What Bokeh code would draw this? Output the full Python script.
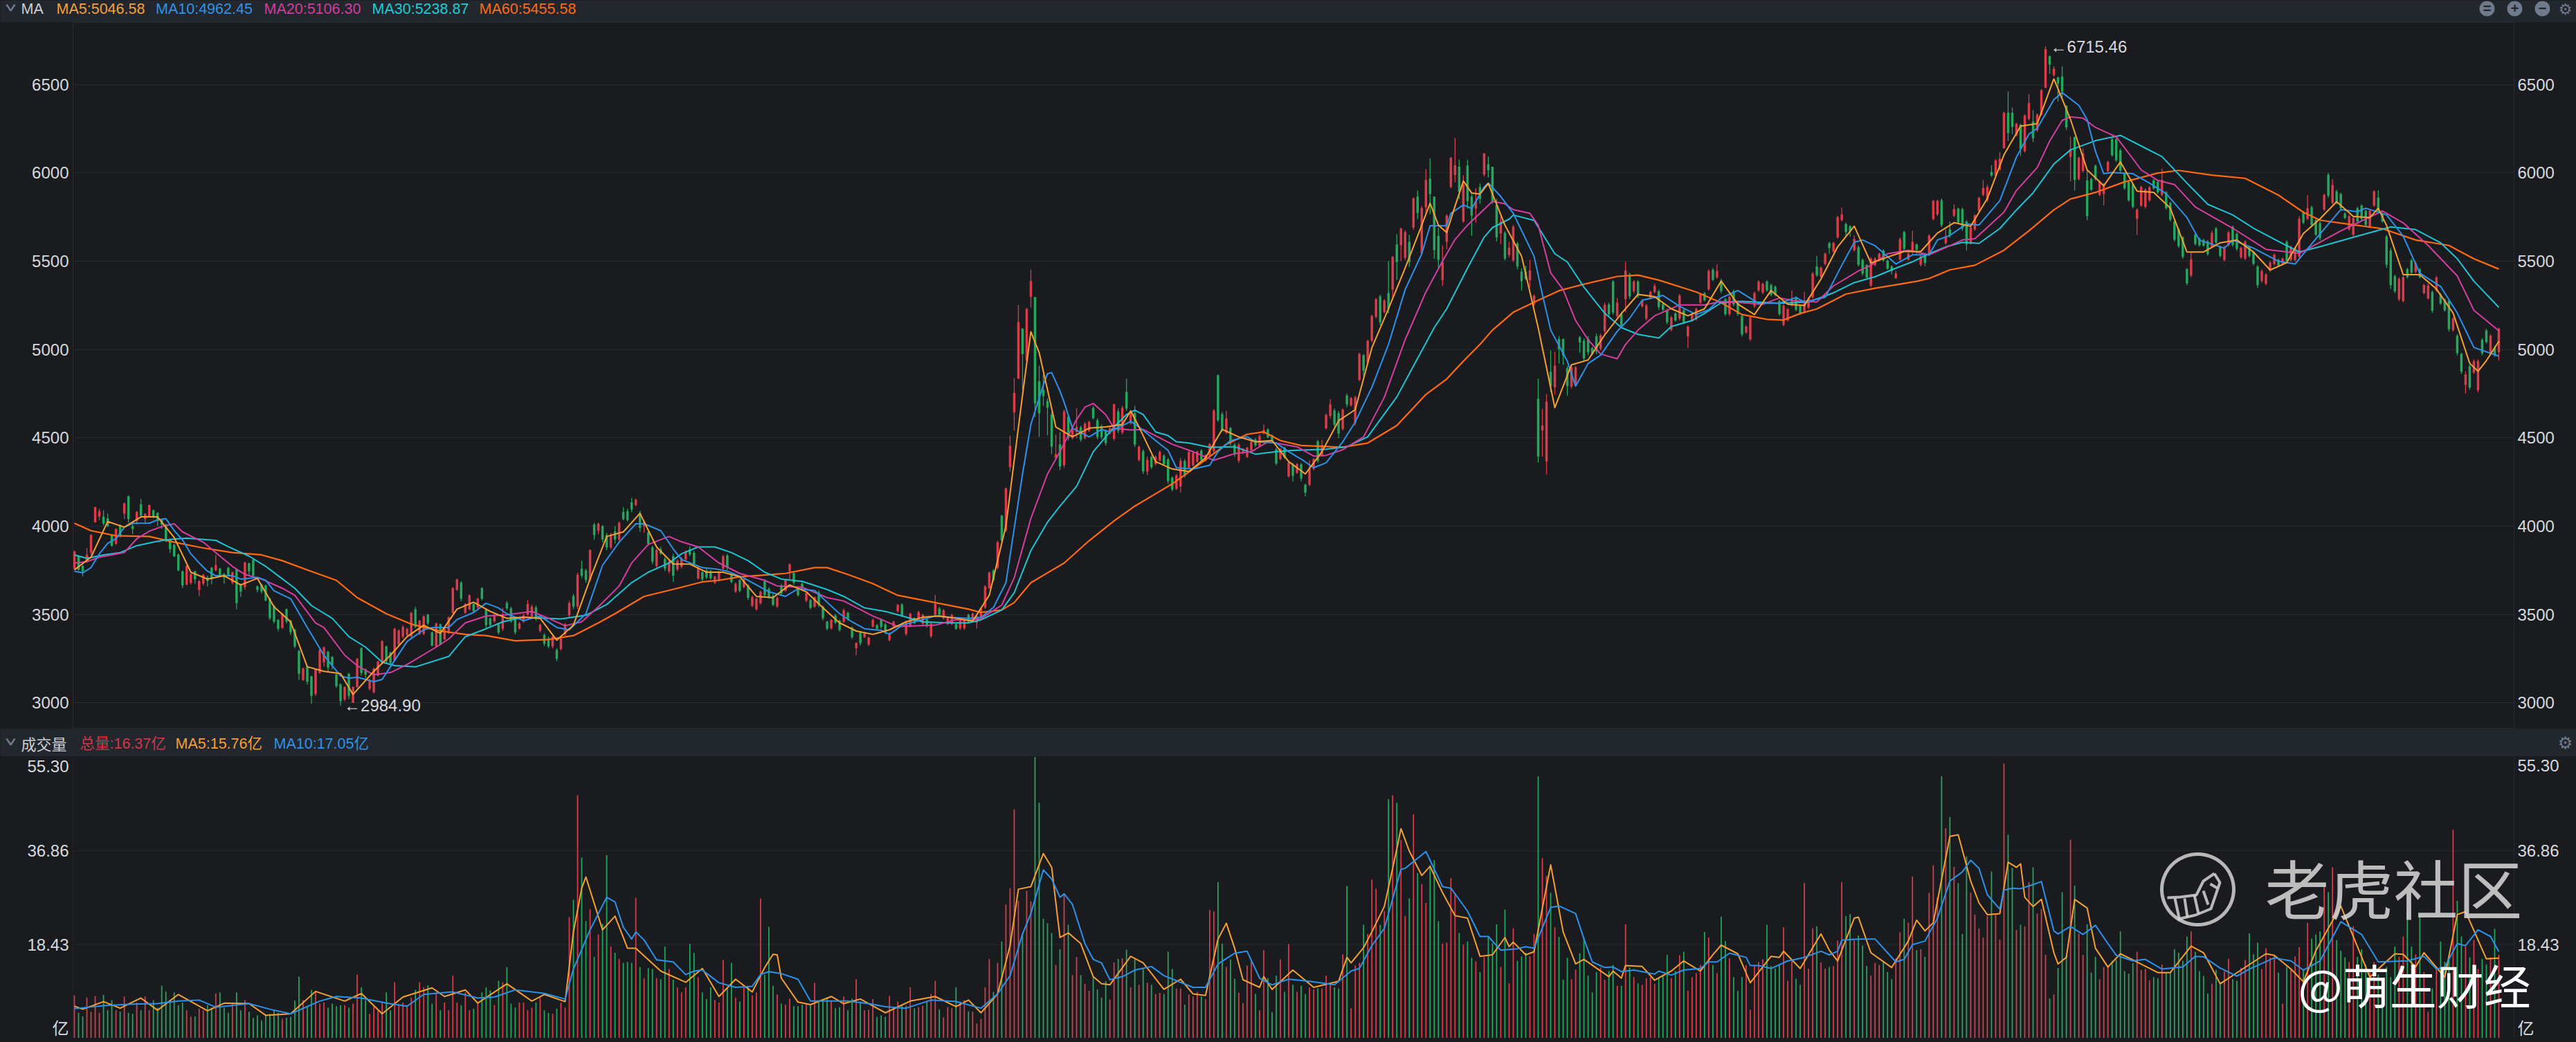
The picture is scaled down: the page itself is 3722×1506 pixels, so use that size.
import numpy as np
from bokeh.core.properties import value
from bokeh.embed import file_html
from bokeh.layouts import column
from bokeh.models import ColumnDataSource, FixedTicker, GlobalInlineStyleSheet, Label, LinearAxis, Range1d
from bokeh.plotting import figure
from bokeh.resources import INLINE

opens = [
3760,3830,3775,3805,3850,4022,4055,4055,4045,3950,3900,4005,4072,4170,4000,4030,4125,4040,4055,4090,
4075,4040,4010,3925,3895,3840,3745,3670,3680,3745,3640,3675,3710,3765,3750,3760,3730,3765,3680,3755,
3670,3655,3790,3810,3660,3670,3665,3590,3550,3470,3425,3530,3465,3415,3295,3130,3205,3150,3050,3170,
3230,3290,3260,3160,3105,3020,3165,3000,3090,3310,3190,3080,3060,3155,3225,3320,3285,3240,3330,3375,
3385,3375,3530,3390,3390,3500,3400,3320,3445,3360,3395,3510,3640,3680,3510,3530,3560,3540,3650,3530,
3478,3462,3445,3420,3565,3535,3470,3420,3460,3500,3490,3540,3408,3385,3365,3320,3300,3305,3390,3495,
3605,3545,3760,3750,3695,4010,3975,4000,3950,3880,3970,3925,4080,4085,4135,4120,4075,4000,3965,3880,
3775,3870,3815,3745,3830,3755,3770,3812,3870,3850,3705,3740,3750,3745,3680,3695,3760,3835,3725,3630,
3695,3655,3665,3550,3530,3565,3690,3645,3605,3545,3665,3635,3745,3735,3640,3675,3578,3582,3545,3625,
3545,3460,3422,3495,3465,3460,3510,3425,3310,3398,3372,3330,3432,3440,3470,3445,3355,3432,3518,3558,
3390,3435,3480,3465,3448,3472,3378,3500,3535,3480,3448,3448,3446,3422,3422,3498,3462,3455,3485,3540,
3650,3750,3765,4060,3975,4335,4645,4835,5119,4940,5298,5297,4820,4772,4709,4632,4387,4464,4345,4620,
4500,4534,4560,4500,4540,4670,4600,4565,4540,4525,4495,4650,4530,4760,4585,4640,4375,4425,4310,4392,
4352,4372,4400,4378,4275,4212,4225,4370,4332,4345,4365,4428,4372,4400,4425,4855,4635,4530,4555,4462,
4370,4412,4392,4428,4492,4455,4525,4548,4515,4435,4380,4445,4282,4350,4302,4350,4235,4235,4325,4480,
4400,4555,4625,4655,4640,4550,4740,4685,4585,4828,4968,4928,5050,5185,5300,5212,5320,5340,5595,5590,
5520,5610,5690,5866,5545,5805,5967,5866,5643,5393,5610,5920,5988,6035,5725,6040,5866,5798,5920,5990,
6048,6035,5819,5657,5660,5535,5505,5600,5441,5441,5393,5255,4721,4543,4367,4874,4786,5059,5059,4894,
4790,4805,5070,5050,5060,5008,5075,5005,5103,5255,5385,5190,5200,5285,5425,5330,5385,5245,5175,5292,
5325,5330,5258,5222,5112,5205,5175,5222,5075,5165,5172,5265,5318,5340,5452,5408,5390,5285,5200,5330,
5270,5190,5096,5058,5245,5335,5322,5385,5365,5355,5275,5140,5165,5250,5292,5250,5212,5238,5295,5470,
5412,5484,5603,5555,5635,5732,5710,5698,5562,5580,5508,5478,5362,5478,5505,5560,5503,5470,5405,5510,
5665,5510,5555,5595,5480,5530,5535,5738,5765,5845,5602,5680,5758,5798,5795,5725,5600,5680,5785,5875,
5845,6005,5985,6018,6140,6340,6340,6212,6272,6122,6305,6290,6240,6330,6482,6660,6552,6540,6545,6380,
6090,6204,5965,6010,5957,5965,6040,5875,5880,6010,6190,6190,6128,5995,5948,5935,5740,5815,5808,5845,
5958,5950,5875,5890,5830,5725,5680,5635,5455,5420,5650,5628,5620,5612,5582,5685,5582,5507,5590,5695,
5655,5522,5515,5582,5552,5470,5388,5372,5448,5484,5508,5484,5610,5507,5507,5525,5778,5740,5805,5732,
5716,5792,5990,5830,5895,5880,5770,5680,5650,5800,5815,5785,5695,5815,5860,5770,5640,5560,5415,5285,
5275,5455,5505,5440,5455,5320,5290,5325,5335,5312,5282,5275,5110,5078,4975,4800,4905,4870,4770,5055,5108,4975,5010,4985]
closes = [
3858,3753,3745,3840,3950,4108,4085,4015,4000,3890,3985,3945,4130,4040,3985,4082,4060,4070,4120,4055,
4030,4010,3915,3870,3830,3750,3665,3775,3730,3700,3690,3725,3690,3700,3780,3720,3710,3725,3740,3565,
3630,3795,3745,3720,3640,3630,3580,3480,3460,3420,3505,3460,3400,3320,3165,3195,3120,3040,3190,3300,
3315,3200,3215,3095,3010,3090,3040,3090,3250,3170,3160,3130,3195,3235,3350,3235,3225,3420,3410,3430,
3420,3510,3430,3465,3490,3450,3325,3450,3330,3420,3485,3650,3700,3590,3560,3610,3520,3590,3590,3440,
3440,3498,3398,3500,3535,3465,3400,3450,3495,3560,3545,3475,3442,3335,3320,3375,3250,3365,3445,3565,
3545,3725,3720,3695,3865,3950,4015,3925,3880,3950,3925,4020,4040,4035,4095,4150,3990,4025,3900,3800,
3865,3845,3760,3800,3720,3805,3820,3855,3840,3785,3765,3700,3710,3705,3715,3740,3830,3765,3685,3675,
3635,3700,3595,3600,3590,3630,3610,3600,3555,3595,3620,3695,3785,3680,3610,3650,3622,3538,3598,3555,
3480,3420,3470,3455,3412,3525,3475,3372,3340,3338,3395,3370,3470,3420,3430,3398,3395,3460,3555,3495,
3458,3505,3452,3515,3498,3435,3450,3560,3500,3525,3485,3498,3420,3472,3472,3460,3505,3490,3535,3660,
3738,3695,3910,3920,4215,4455,4755,5155,4975,5230,5388,4695,4640,4737,4671,4450,4408,4338,4650,4500,
4548,4562,4490,4580,4590,4612,4505,4505,4470,4555,4690,4540,4670,4665,4645,4462,4450,4310,4375,4335,
4392,4420,4352,4255,4208,4288,4370,4285,4420,4415,4422,4375,4402,4465,4655,4600,4545,4610,4470,4405,
4462,4438,4445,4478,4458,4510,4545,4505,4482,4355,4438,4390,4360,4285,4352,4270,4190,4325,4380,4370,
4460,4630,4690,4575,4525,4660,4690,4725,4730,4975,4880,5050,5190,5285,5155,5278,5230,5525,5495,5685,
5665,5495,5855,5772,5800,5960,5880,5562,5508,5495,5758,6085,6042,5893,5933,5840,5758,5839,5852,6110,
6015,5839,5636,5724,5515,5576,5695,5470,5387,5400,5447,5305,4395,4570,4705,4793,4908,5002,4968,4793,
4900,4900,5040,4950,4985,4975,4990,5080,5252,5200,5210,5265,5135,5447,5300,5385,5305,5278,5250,5325,
5360,5240,5225,5155,5182,5165,5305,5155,5130,5198,5230,5312,5280,5445,5395,5445,5330,5200,5298,5255,
5200,5085,5130,5183,5320,5385,5372,5335,5310,5310,5200,5248,5228,5280,5225,5205,5280,5288,5430,5420,
5464,5542,5575,5603,5750,5765,5665,5670,5625,5480,5430,5408,5515,5515,5542,5505,5458,5445,5430,5625,
5570,5542,5610,5565,5528,5490,5645,5842,5842,5705,5640,5645,5795,5720,5685,5595,5690,5760,5858,5915,
5920,5985,6070,6080,6340,6225,6260,6278,6135,6325,6395,6195,6330,6468,6700,6612,6590,6505,6460,6258,
6135,5960,6085,6110,5755,5905,5965,5950,5935,6062,6100,6072,6012,5912,5845,5808,5792,5920,5905,5918,
5912,5890,5960,5800,5735,5622,5585,5525,5375,5510,5598,5590,5588,5540,5660,5605,5530,5580,5662,5592,
5570,5575,5610,5530,5485,5365,5445,5425,5492,5536,5476,5515,5502,5580,5575,5740,5718,5800,5705,5650,
5630,5875,5870,5930,5830,5800,5745,5755,5745,5725,5740,5705,5785,5895,5785,5725,5480,5365,5330,5400,
5410,5410,5435,5490,5410,5365,5362,5220,5408,5260,5222,5115,5175,4980,4875,4860,4785,4935,4935,4978,5042,5078,4968,5118]
highs = [
3860,3835,3780,3877,3955,4112,4100,4090,4072,3955,3990,4010,4135,4174,4015,4085,4155,4075,4122,4095,
4080,4045,4015,3930,3900,3845,3750,3780,3735,3750,3695,3730,3720,3770,3838,3765,3735,3770,3745,3760,
3675,3800,3795,3815,3665,3675,3670,3595,3555,3475,3510,3535,3470,3420,3300,3200,3210,3155,3195,3305,
3320,3295,3265,3165,3110,3095,3170,3095,3255,3315,3195,3135,3200,3240,3355,3325,3290,3425,3415,3440,
3425,3515,3545,3470,3495,3505,3405,3455,3450,3425,3490,3655,3703,3690,3565,3615,3565,3595,3655,3535,
3485,3505,3453,3538,3577,3544,3479,3459,3505,3583,3557,3551,3450,3394,3375,3388,3309,3375,3453,3577,
3616,3737,3805,3759,3870,4020,4020,4007,3962,3962,4001,4027,4108,4099,4160,4157,4086,4034,3975,3890,
3873,3883,3825,3805,3844,3812,3825,3864,3886,3860,3773,3746,3760,3753,3720,3746,3838,3844,3733,3681,
3701,3707,3672,3609,3596,3636,3701,3655,3616,3603,3675,3701,3790,3746,3646,3681,3629,3590,3603,3636,
3551,3466,3476,3505,3472,3534,3518,3433,3342,3407,3400,3375,3479,3446,3479,3453,3401,3466,3561,3564,
3466,3512,3485,3522,3505,3479,3459,3612,3544,3531,3492,3505,3453,3479,3479,3505,3512,3498,3540,3666,
3743,3757,3918,4065,4219,4513,4839,5252,5119,5234,5451,5297,4908,4859,4723,4646,4520,4534,4660,4632,
4555,4667,4569,4590,4597,4681,4611,4576,4548,4562,4695,4667,4681,4835,4653,4681,4457,4436,4394,4401,
4401,4429,4408,4387,4282,4296,4387,4380,4429,4422,4429,4436,4408,4471,4663,4859,4646,4653,4562,4471,
4471,4443,4450,4485,4499,4520,4576,4555,4520,4443,4443,4450,4366,4359,4359,4359,4240,4373,4387,4489,
4489,4639,4719,4667,4653,4667,4751,4732,4739,4982,4975,5056,5198,5292,5310,5285,5501,5528,5653,5690,
5674,5650,5862,5900,5812,6021,6082,5866,5690,5589,5765,6089,6197,6075,5987,6075,5880,5913,5940,6112,
6093,6035,5852,5765,5670,5610,5704,5610,5461,5474,5508,5312,4836,4664,4748,4995,4988,5076,5063,4907,
4907,4907,5076,5063,5076,5015,5090,5090,5265,5265,5393,5292,5211,5497,5434,5393,5393,5285,5258,5333,
5373,5339,5265,5231,5191,5211,5315,5231,5137,5204,5238,5319,5326,5454,5461,5481,5400,5292,5306,5340,
5279,5197,5138,5191,5327,5392,5379,5392,5373,5362,5282,5256,5236,5334,5301,5256,5327,5295,5438,5529,
5471,5549,5610,5610,5757,5803,5718,5705,5646,5588,5516,5484,5523,5523,5549,5568,5510,5477,5445,5633,
5672,5549,5672,5601,5536,5536,5653,5848,5848,5855,5679,5724,5822,5803,5803,5731,5698,5766,5865,5959,
5933,6043,6079,6118,6347,6460,6369,6284,6278,6330,6447,6356,6336,6473,6715.46,6664,6603,6545,6603,6382,
6204,6204,6092,6137,6017,5972,6047,5957,5942,6069,6197,6197,6137,6002,5957,5942,5799,5927,5912,5927,
5965,5957,6024,5897,5837,5732,5687,5642,5462,5552,5657,5634,5627,5620,5672,5694,5589,5589,5672,5702,
5664,5582,5619,5589,5559,5477,5454,5432,5500,5544,5514,5522,5619,5589,5582,5754,5784,5874,5814,5739,
5724,5882,6000,5964,5904,5889,5777,5762,5754,5807,5822,5792,5792,5901,5901,5777,5649,5574,5424,5409,
5417,5462,5514,5499,5462,5372,5372,5334,5417,5319,5289,5282,5184,5087,4982,4877,4914,4944,4944,5064,5117,5087,5019,5124]
lows = [
3758,3750,3715,3800,3840,4020,4035,4005,3995,3885,3895,3935,4040,4020,3955,4010,4050,4020,4050,4045,
4000,3985,3910,3850,3825,3745,3650,3665,3670,3675,3605,3665,3660,3670,3745,3715,3675,3720,3670,3530,
3600,3640,3725,3715,3625,3620,3575,3470,3450,3405,3420,3450,3385,3310,3130,3125,3105,2995,3040,3165,
3205,3175,3190,3085,2984.9,3010,3020,3000,3085,3155,3140,3070,3055,3150,3220,3225,3215,3235,3320,3365,
3380,3370,3425,3385,3385,3440,3320,3315,3325,3355,3390,3505,3635,3575,3505,3525,3510,3530,3580,3425,
3433,3453,3388,3407,3525,3453,3388,3414,3453,3492,3479,3466,3400,3322,3309,3309,3237,3296,3381,3485,
3531,3531,3707,3681,3688,3923,3955,3910,3864,3870,3903,3916,4034,4027,4079,4112,3968,3962,3890,3786,
3766,3838,3746,3733,3685,3746,3760,3805,3831,3773,3698,3690,3700,3698,3672,3688,3753,3753,3677,3622,
3625,3649,3583,3542,3522,3557,3596,3590,3548,3538,3609,3629,3700,3668,3603,3642,3570,3528,3538,3542,
3468,3411,3414,3446,3403,3453,3466,3362,3270,3325,3368,3322,3427,3414,3420,3388,3348,3427,3512,3486,
3381,3427,3446,3459,3440,3427,3368,3492,3492,3472,3440,3440,3414,3414,3414,3453,3456,3421,3477,3533,
3645,3687,3757,3911,3967,4310,4541,4835,4772,4926,5238,4618,4506,4681,4513,4408,4380,4317,4331,4485,
4492,4499,4478,4492,4534,4604,4492,4492,4457,4520,4485,4527,4520,4653,4576,4450,4366,4296,4289,4324,
4345,4366,4345,4240,4198,4205,4191,4275,4324,4338,4359,4366,4366,4394,4415,4590,4534,4520,4457,4394,
4359,4408,4387,4422,4450,4450,4520,4499,4478,4345,4373,4380,4275,4254,4296,4254,4170,4226,4317,4359,
4394,4548,4611,4562,4499,4541,4674,4678,4570,4820,4847,4921,5042,5177,5137,5204,5204,5292,5393,5501,
5508,5468,5677,5738,5535,5772,5765,5515,5461,5360,5569,5913,5947,5852,5717,5798,5643,5717,5825,5981,
5974,5825,5612,5596,5504,5522,5495,5454,5333,5393,5353,5245,4361,4394,4293,4759,4745,4921,4914,4739,
4779,4793,4982,4935,4968,4968,4975,4995,5076,5191,5198,5178,5123,5211,5285,5319,5292,5238,5164,5285,
5319,5225,5218,5144,5103,5157,5164,5144,5009,5157,5164,5258,5272,5333,5387,5400,5319,5191,5191,5245,
5191,5073,5090,5049,5236,5327,5314,5327,5301,5301,5191,5132,5158,5243,5217,5197,5204,5230,5288,5412,
5405,5477,5542,5549,5627,5724,5640,5640,5555,5471,5418,5399,5353,5471,5497,5497,5451,5425,5399,5503,
5562,5503,5542,5542,5471,5471,5529,5731,5757,5692,5594,5633,5750,5711,5672,5562,5594,5672,5777,5868,
5835,5978,5978,6011,6135,6180,6219,6206,6095,6115,6297,6174,6232,6323,6480,6560,6545,6404,6421,6243,
5952,5900,5957,6002,5732,5897,5957,5867,5815,6002,6092,6062,6002,5904,5837,5799,5649,5807,5799,5837,
5905,5882,5867,5792,5724,5612,5574,5514,5364,5409,5589,5582,5582,5530,5574,5597,5522,5499,5582,5582,
5559,5514,5507,5522,5477,5349,5379,5364,5440,5477,5469,5477,5492,5499,5499,5514,5709,5732,5694,5642,
5619,5784,5859,5822,5822,5792,5739,5672,5642,5717,5732,5694,5687,5807,5777,5717,5462,5342,5319,5274,
5267,5402,5424,5432,5402,5312,5282,5207,5327,5252,5214,5102,5102,4967,4862,4750,4772,4862,4757,4967,5034,4967,4959,4937]

volumes = [
8.4,5.0,4.3,8.0,5.2,8.3,5.0,8.5,5.5,7.5,5.5,5.2,8.2,5.0,4.8,7.0,5.5,8.2,5.5,7.5,
6.0,10.3,9.2,7.5,9.0,6.5,7.0,5.5,4.2,4.3,5.8,5.5,6.5,6.0,8.8,9.0,6.0,5.0,7.0,9.0,
5.5,7.5,5.2,4.0,4.5,3.5,4.6,4.8,5.5,5.0,3.8,4.0,4.2,7.4,12.1,7.5,6.2,9.5,9.2,6.8,
7.0,6.0,6.8,6.3,6.5,6.5,6.0,6.8,12.5,10.0,7.5,4.8,6.2,5.4,7.2,9.0,5.5,11.0,6.5,7.0,
6.5,8.0,9.5,11.0,10.0,10.4,6.8,9.0,5.5,7.0,5.5,12.3,7.0,6.5,9.0,5.5,5.8,7.0,9.0,10.0,
9.4,6.5,11.3,11.0,14.0,6.8,6.0,7.0,7.0,5.5,6.0,7.0,8.0,5.5,5.0,4.8,5.8,7.0,6.0,23.8,
27.2,47.8,35.5,23.0,25.4,16.0,20.4,22.5,36.0,18.0,16.8,15.6,14.8,15.0,14.8,27.6,14.0,11.8,13.8,13.6,
11.8,11.6,18.0,13.6,11.5,10.0,9.0,10.0,18.6,
16.8,12,9,7.7,10,7.5,7,15.4,10,14.8,8,7.2,10,10,8.4,9,27.5,12.5,21.9,10.3,
8.6,6.8,6.6,7.8,6.3,6.3,6.6,6.6,6.5,10.9,7.5,7.7,8,7.3,5.9,6.1,8.2,5.5,7.8,11.6,
7.2,5.5,5.6,7.7,4.2,4.5,4.2,8.3,6.1,7.2,6.6,6.4,10,5.9,6.1,6.4,7.2,8.7,11.3,5.7,
4.1,6.1,5.9,10,7.2,7.5,5.3,5.2,2.9,3.8,10,15.6,9.1,14.8,19,26.3,29.5,45,27,20.7,
29,26.9,55.3,46.3,23.5,22.6,20.7,14.4,17.5,28.2,22.3,12.4,16,12.4,10.7,9.3,12,9.6,8,11.2,
7.6,14.9,15.6,15.7,17.4,10,15.5,10.5,13.7,10.9,10.5,8.7,8.9,8.7,17,13.6,9.8,9.8,6.6,8.6,
8.2,9.1,8.2,7.7,25.2,24.9,30.7,18.6,14,15.5,11.7,8.9,6.9,14.3,15.1,8.7,5.5,17.3,11.8,5.1,
12.3,15.5,9.1,18.5,10.5,9.1,10.3,8.7,10,9.6,9.8,9.8,12.3,10.9,10,9.8,16.5,29.9,5.9,14.3,
14.8,22.3,20.5,31.2,29.4,22.3,25,47,47.8,46.3,39,24,27.5,44,32.5,30.3,26.6,34,35,23,
18.6,18.8,31.5,28.6,20.7,18.4,19,15.8,15.1,13,15.9,19.8,18.7,22.4,14,25.3,10.8,21.6,15.2,16.1,
16.8,16.1,20.5,51.5,35.4,31.9,28.6,21.8,19.9,11.5,15.8,11.6,13.5,16.7,19.8,12.3,9,13,13.9,11.5,
13.2,14.4,10.3,10.3,22.4,13.9,12,10.8,10.5,11.8,12,10.7,12,12.5,16.4,11.8,13.2,16.3,17,9.3,
12,12.8,14.4,20.9,19.8,14.4,12.8,23.9,19.1,15.7,12,9.3,12,14.4,5.6,14.4,15,15.5,22.3,14.2,
13.7,14.4,21.8,11.3,15.1,11.7,10.5,30.5,13.7,21.6,22,14.9,13.7,14,14.2,19.2,30.7,24,24.4,19.3,
20.2,18.2,14.2,12.3,14.8,14.4,15.2,13,11.6,15.7,20.8,23.5,22.7,31.8,17.3,17.5,16,28.6,34,27.7,
51.5,41.3,43.5,33.7,30.5,20.5,35.7,28.6,24.3,21.6,19.8,24,32.8,24.5,19.4,54,40,33.5,21.3,22.3,
22,30.7,33.6,24.5,25.4,16.4,7.8,8.6,13.8,28.7,16.4,39,30,20.6,16.4,22.4,12.9,16,11.6,14,
14,15.2,15.4,21,13.2,12.7,14.8,17,13.4,13.6,11.4,12,11.8,14.5,12.9,12.9,17.5,16.8,15.2,20,
21,17,13.2,12.2,8.8,10.7,13.4,11,13.2,15.6,11.6,11.3,13.8,15.4,20.6,16.5,18.8,13.6,17.7,15.9,
16.3,12.9,6.8,14,13.4,16.1,17.9,13.6,22.7,19.6,20.4,21,30.4,28.7,33.6,19.3,17.2,15.9,15,22,
16,17.5,14.5,13,15,12.5,11.5,14,12,18,16,20,24.8,18,16.5,23.8,13,5.2,9.8,14,19,
15,15.9,41,27,20,18.1,15.9,19.3,13.6,15.6,14.5,15.9,21.5,16.37]

ma5_i = [0,4,8,12,16,20,24,28,32,36,40,44,48,52,56,60,64,67,72,76,80,84,88,92,96,100,104,108,112,116,120,124,128,132,136,140,144,148,152,156,160,164,168,172,176,180,184,188,192,196,200,204,208,212,216,220,224,228,230,232,236,240,244,248,252,254,256,260,264,268,272,276,280,284,288,292,296,300,304,308,312,316,320,324,326,328,330,332,334,336,338,340,344,348,352,356,360,364,368,372,376,380,384,388,392,396,400,404,408,412,416,420,424,428,432,436,440,444,448,452,456,460,464,468,472,476,480,484,488,492,496,500,504,508,512,516,520,524,528,532,536,540,544,548,552,554,556,560,564,568,572,576,578,580,583]
ma5 = [3753,3825,4027,3995,4053,4053,3936,3740,3701,3720,3668,3705,3544,3459,3205,3179,3166,3048,3179,3270,3375,3440,3394,3531,3570,3518,3479,3485,3479,3355,3440,3701,3942,3968,4073,3883,3786,3786,3740,3740,3714,3603,3596,3668,3629,3538,3453,3407,3388,3414,3459,3485,3492,3479,3463,3610,4002,4744,5101,4982,4562,4506,4555,4562,4576,4653,4562,4366,4324,4310,4387,4548,4506,4478,4485,4366,4296,4422,4597,4660,5010,5231,5461,5704,5828,5704,5663,5812,5954,5886,5880,5940,5704,5528,5123,4671,4914,4941,5083,5204,5312,5299,5231,5191,5231,5387,5258,5198,5334,5256,5249,5399,5581,5698,5490,5523,5555,5555,5659,5718,5698,5855,6102,6265,6278,6532,6302,6017,5927,6062,5897,5890,5800,5552,5552,5604,5620,5552,5450,5492,5657,5740,5837,5754,5747,5800,5702,5424,5424,5342,5207,4922,4877,4937,5046.58]

ma10_i = [0,2,4,6,8,10,12,14,18,20,22,24,26,28,30,32,34,38,40,44,46,48,52,56,60,64,66,68,72,74,76,80,84,86,90,92,96,99,102,104,108,112,116,119,123,127,131,135,137,141,144,146,151,154,157,161,164,167,171,174,178,181,184,187,190,194,196,199,203,207,210,215,218,221,224,226,228,230,233,234,235,237,238,240,244,247,249,254,256,260,263,265,269,273,275,278,282,284,289,292,295,298,301,305,308,312,316,320,324,326,330,331,334,336,339,340,343,346,351,353,355,359,361,364,367,371,374,377,382,386,390,393,396,400,405,410,414,416,421,425,428,430,433,438,442,446,448,451,455,458,463,467,470,472,476,478,482,484,486,488,490,495,499,503,508,511,517,519,524,530,534,539,545,549,551,556,560,564,569,573,577,583]
ma10 = [3746,3736,3766,3844,3903,3929,3994,4017,4017,4036,4043,3975,3923,3844,3792,3746,3720,3720,3701,3711,3694,3635,3590,3427,3270,3153,3140,3146,3120,3133,3205,3348,3414,3427,3427,3472,3512,3564,3538,3505,3466,3492,3427,3414,3505,3779,3910,4014,4014,3975,3871,3812,3766,3759,3746,3707,3668,3629,3603,3646,3636,3570,3505,3459,3420,3411,3388,3440,3466,3492,3485,3479,3484,3540,3680,3988,4296,4576,4800,4863,4870,4765,4702,4555,4506,4548,4534,4593,4562,4485,4429,4331,4324,4345,4422,4485,4506,4478,4471,4422,4380,4331,4359,4478,4590,4786,5029,5339,5542,5701,5701,5771,5819,5798,5920,5943,5866,5771,5528,5312,5110,4934,4793,4921,4968,5103,5177,5279,5306,5245,5198,5225,5292,5334,5262,5262,5295,5269,5295,5477,5607,5620,5588,5484,5536,5536,5620,5646,5711,5705,5842,6089,6219,6252,6414,6454,6382,6302,6122,5995,6002,5995,5942,5882,5747,5619,5574,5619,5574,5500,5484,5627,5792,5780,5800,5762,5642,5432,5357,5207,5012,4962.45]

ma20_i = [0,3,6,9,12,15,18,21,24,26,31,35,38,41,45,50,53,58,60,65,68,72,76,80,87,90,94,99,104,110,114,118,122,126,131,134,138,143,146,150,155,160,166,169,175,181,185,192,198,207,212,215,218,223,226,230,234,237,241,243,245,248,250,254,257,264,269,274,279,283,287,294,298,301,305,310,315,320,325,329,332,335,338,341,344,346,350,352,355,358,361,364,367,371,373,376,380,386,392,396,401,406,410,414,419,423,429,432,436,441,446,451,454,457,464,467,472,475,478,480,483,486,491,497,501,505,510,519,527,535,545,555,560,566,573,577,583]
ma20 = [3792,3799,3825,3838,3851,3929,3972,3998,4014,3968,3910,3831,3773,3727,3701,3649,3609,3453,3427,3270,3211,3159,3172,3218,3316,3362,3453,3492,3499,3518,3479,3437,3459,3544,3662,3792,3897,3942,3912,3883,3792,3733,3694,3662,3655,3596,3577,3492,3433,3440,3472,3468,3477,3554,3708,4044,4296,4422,4604,4674,4695,4632,4555,4545,4548,4464,4422,4373,4411,4422,4478,4450,4397,4401,4433,4506,4730,5056,5326,5501,5623,5704,5771,5839,5825,5792,5771,5704,5434,5339,5164,5056,4975,4948,5029,5110,5191,5252,5252,5272,5265,5256,5292,5275,5269,5360,5445,5477,5542,5562,5536,5588,5620,5627,5777,5900,6030,6180,6297,6317,6310,6257,6204,6017,5957,5934,5807,5687,5567,5544,5672,5784,5717,5589,5417,5222,5106.30]

ma30_i = [0,3,7,11,15,19,22,27,34,37,42,46,49,53,57,62,66,70,74,77,82,90,94,99,103,108,117,123,128,134,138,143,146,150,154,158,162,166,170,175,181,185,190,195,198,204,210,215,218,223,226,230,234,237,241,245,250,253,255,257,260,263,265,268,273,279,284,289,293,301,306,311,318,322,327,330,335,339,341,345,346,351,356,359,363,368,372,376,381,384,389,392,396,401,410,417,423,428,433,437,442,446,450,454,458,463,467,471,476,480,486,492,497,502,508,513,519,524,530,535,540,549,557,563,569,573,577,583]
ma30 = [3838,3818,3838,3851,3890,3910,3923,3933,3920,3884,3831,3773,3720,3649,3551,3479,3375,3316,3231,3211,3204,3263,3375,3420,3459,3485,3476,3496,3557,3681,3740,3792,3844,3883,3883,3851,3805,3740,3701,3688,3642,3603,3538,3518,3499,3459,3453,3453,3470,3526,3624,3862,4023,4114,4226,4422,4562,4632,4657,4632,4534,4513,4478,4471,4447,4450,4408,4422,4429,4436,4450,4506,4732,4907,5124,5231,5461,5636,5690,5738,5761,5731,5542,5495,5353,5205,5124,5086,5065,5130,5164,5205,5265,5273,5262,5269,5321,5379,5412,5451,5497,5542,5581,5607,5601,5685,5790,5887,6050,6130,6182,6212,6152,6092,5942,5822,5762,5687,5612,5552,5582,5642,5694,5679,5604,5514,5387,5238.87]

ma60_i = [0,4,10,18,24,31,38,45,50,56,63,68,75,81,88,94,99,106,114,120,126,130,137,145,151,155,160,166,171,178,181,186,192,198,205,215,218,223,226,230,238,244,250,255,260,264,269,277,282,286,290,295,305,311,318,325,330,334,338,341,346,352,357,362,371,376,381,390,396,401,407,411,415,419,426,433,443,446,451,457,464,470,476,480,486,493,501,506,514,522,530,536,540,547,555,563,571,577,583]
ma60 = [4017,3975,3946,3942,3910,3877,3851,3838,3805,3753,3694,3596,3505,3446,3407,3388,3381,3352,3359,3381,3453,3505,3603,3649,3685,3694,3714,3724,3733,3766,3766,3727,3675,3609,3577,3531,3512,3526,3568,3680,3792,3918,4030,4114,4184,4240,4324,4464,4520,4534,4485,4457,4447,4471,4570,4746,4833,4934,5029,5110,5211,5279,5333,5364,5414,5421,5393,5326,5265,5198,5171,5167,5204,5230,5314,5347,5386,5402,5451,5477,5562,5672,5790,5852,5889,5949,5999,6014,5987,5969,5874,5777,5732,5709,5684,5620,5589,5514,5455.58]

vma5_i = [0,2,7,11,16,20,25,32,36,42,46,52,58,65,69,74,79,86,89,94,97,104,110,113,118,120,122,123,127,130,133,135,141,147,151,155,159,163,166,168,169,170,174,177,182,185,189,195,201,207,212,215,218,222,225,227,230,233,235,237,239,242,245,247,249,254,257,262,266,269,272,275,277,279,281,285,286,288,293,298,304,306,307,310,312,315,318,319,321,324,326,329,332,335,338,341,344,345,346,349,351,355,358,361,363,369,370,372,373,377,380,384,387,391,394,396,400,403,408,410,411,415,420,422,424,428,429,432,437,441,443,445,447,451,453,456,458,460,463,465,467,468,469,471,473,476,477,479,481,484,486,489,492,495,501,504,509,512,516,521,527,529,533,536,539,545,552,554,558,560,563,565,570,573,575,580,583]
vma5 = [6.3,5.7,7.2,5.9,7.9,5.5,8.6,5.4,6.9,6.8,4.5,4.8,9.2,7.3,8.8,4.8,8.1,9.9,8.2,9.5,6.9,10.7,7.3,8.6,7.2,20.9,29.5,31.7,21.3,24,17.7,17.7,13.2,11,13.7,8.2,11.6,9.1,13.9,16.5,16.4,11.8,7.1,6.6,8.2,6.8,7.7,5,7.3,8.2,6.2,7.5,5,8.7,18.2,29.3,29.8,36.3,33.6,19.8,20.7,18.6,12.1,10.7,10.5,16.1,14.8,9.6,11.6,8.7,8.4,19.5,22.6,17.7,11.5,10,12.1,9.6,13.4,10,11.2,15.9,14.8,17.8,20.9,25.9,37.2,41.2,36.8,32,33.8,28.6,24.1,23.6,16.1,16.4,19.8,18,18.9,16.4,17,34.1,20.9,14.6,15.5,12.1,13.2,11.8,14.3,14.1,11.4,13.2,15.2,13.2,16.4,18.3,16.6,10.9,16.1,15.9,17.1,13.7,20.5,17.3,15.2,23.6,23.8,16.8,13.9,19.1,23.2,21.1,22.7,39.7,40,30.9,26.6,24.3,24.5,34.6,33.6,34.3,27.7,25.9,27.3,16.8,14.6,15.9,27.3,25.6,17.7,14,16.6,15.4,12.9,12.9,18.1,16.8,10.7,13.4,16.6,16.3,13.6,11.1,17.2,26,12,13.6,16.6,16.5,14,16.8,12,24.3,24.9,15.6,15.76]

vma10_i = [0,7,14,20,25,30,34,42,47,52,59,63,69,75,80,84,91,97,101,106,113,118,120,124,128,130,132,134,135,137,140,144,147,149,151,155,159,163,165,167,170,174,177,186,191,195,200,206,212,218,222,225,228,230,233,235,237,238,240,243,245,247,249,252,255,259,262,269,272,275,279,282,285,288,292,297,303,307,309,312,315,319,320,325,329,331,335,338,340,343,347,349,351,355,357,361,363,365,368,370,372,375,380,381,384,387,391,393,395,398,402,403,405,408,412,414,416,420,422,424,425,429,433,438,440,442,445,448,451,454,456,458,460,463,464,466,468,471,473,476,477,480,483,486,489,491,495,498,502,507,510,512,516,520,523,529,533,536,540,545,550,554,561,565,568,570,573,575,578,581,583]
vma10 = [5.8,6.4,6.7,6.8,7.3,7.5,6.1,6.8,5.7,4.8,7.3,8.2,7.9,6.9,6.3,8.6,9.1,7.9,8.1,9.5,8.8,7.7,13.6,21.3,27.7,26.8,21.8,19.5,20.9,19.3,15.4,15,12.5,13.2,13.4,10.9,10,10.2,12.5,13.1,12.7,11.6,7.3,7.3,6.8,6.2,5.9,7.5,7.2,5.9,8.7,12.3,20.5,24.5,33.1,31.3,27.7,28.4,26.3,18.6,15.5,14.8,11.5,12.1,13.4,14.1,12.3,10,10,14.6,16.7,17.1,11.8,10.5,11.6,11.2,10.5,13.2,13.7,18.2,21.6,33.2,33.4,36.7,29.8,29.5,25,20,20,17.3,17.6,18,17.7,25.7,26,24.5,19.5,15,13.9,14,13.1,13.4,12.6,13.2,12.4,13.4,13.7,15,15,16.7,15.9,14.3,14.3,13.7,15.2,15.5,15.9,17.1,16.4,17.1,19.3,19.5,19.5,15,15.5,18.4,19.1,23.6,30.9,32.7,35,33.4,28.2,25.4,29.1,29.5,29.4,30.2,30.8,21.1,20.5,22,20.4,22.2,18.6,16.3,15.2,15.5,13.6,14,16.1,16,13.8,12.2,13.6,15.8,15.2,13.4,15.2,22.9,20.4,15,15.2,16.1,13.6,14,18.6,18.2,21.3,20,17.05]

price_ticks = [3000,3500,4000,4500,5000,5500,6000,6500]
vol_grid = [18.43,36.86]
vol_tick_labels = {53.67:"55.30",36.86:"36.86",18.43:"18.43",1.9:"亿"}
legend_main = [("MA5:5046.58","#F5A03C",81),("MA10:4962.45","#2F94E8",224.5),("MA20:5106.30","#D33C9E",381),("MA30:5238.87","#1ECBD8",537),("MA60:5455.58","#FF6A1A",692)]
legend_vol = [("总量:16.37亿","#D0384A",115),("MA5:15.76亿","#F5A03C",253),("MA10:17.05亿","#2F94E8",395)]

BG = "#191B1F"; HEAD = "#22262D"; GRID = "#272A2F"; TXT = "#D6D9DD"; ICON = "#6F7A8C"
RED = "#DA3D49"; GREEN = "#27A65E"
FONT = "Liberation Sans"; CJK = "Noto Sans CJK SC"
N = min(len(opens), len(closes), len(highs), len(lows), len(volumes))
o, c = np.array(opens[:N],float), np.array(closes[:N],float)
h, l = np.maximum(np.array(highs[:N],float), np.maximum(o,c)), np.minimum(np.array(lows[:N],float), np.minimum(o,c))
colors = [RED if c[i] >= o[i] else GREEN for i in range(N)]
step = (3610-107)/583
src = ColumnDataSource(dict(x=np.arange(N), o=o, c=c, h=h, l=l, top=np.maximum(o,c), bot=np.minimum(o,c), v=np.array(volumes[:N]), col=colors))

def header(height):
    p = figure(width=3722, height=height, x_range=Range1d(0,3722), y_range=Range1d(height,0), output_backend="svg",
               toolbar_location=None, min_border=0, background_fill_color=HEAD, border_fill_color=HEAD, outline_line_color=None,
               frame_align=False)
    p.axis.visible = False; p.grid.visible = False
    return p

def chevron(p, cy):
    p.line([9,15,21],[cy-5,cy+4,cy-5], line_color=ICON, line_width=2.5)

h1 = header(32)
chevron(h1, 11)
h1.text([30],[12],text=["MA"],text_font=value(FONT),text_font_size="21.5px",text_baseline="middle",text_color="#CDD0D5")
for t,col,x in legend_main:
    h1.text([x],[12],text=[t],text_font=value(FONT),text_font_size="21.5px",text_baseline="middle",text_color=col)
h1.scatter([3593,3633,3673],[12,12,12],size=22,marker="circle",fill_color=ICON,line_color=None)
h1.text([3593,3633,3673],[11,11,11],text=["=","+","−"],text_font=value(FONT),text_font_size="20px",text_align="center",text_baseline="middle",text_color="#20242B",text_font_style="bold")
h1.text([3706],[13],text=["⚙"],text_font=value("DejaVu Sans"),text_font_size="22px",text_align="center",text_baseline="middle",text_color=ICON)

main = figure(width=3722, height=1021, x_range=Range1d((105-107)/step, (3632-107)/step), y_range=Range1d(2853,6851), output_backend="svg", toolbar_location=None,
              min_border_left=105, min_border_right=90, min_border_top=0, min_border_bottom=0,
              background_fill_color=BG, border_fill_color=BG, outline_line_color=GRID, frame_align=False)
main.xaxis.visible = False; main.xgrid.visible = False
main.ygrid.ticker = FixedTicker(ticks=price_ticks); main.ygrid.grid_line_color = GRID
ra = LinearAxis(); main.add_layout(ra, "right")
for ax, st in ((main.yaxis[0], 6), (ra, 5)):
    ax.ticker = FixedTicker(ticks=price_ticks); ax.axis_line_color=None; ax.major_tick_line_color=None; ax.minor_tick_line_color=None
    ax.major_tick_out=0; ax.major_tick_in=0; ax.minor_tick_out=0; ax.minor_tick_in=0
    ax.major_label_text_color=TXT; ax.major_label_text_font=FONT; ax.major_label_text_font_size="24px"; ax.major_label_standoff=st
main.segment("x","h","x","l",source=src,line_color="col",line_width=1.3)
main.vbar("x",width=0.58,top="top",bottom="bot",source=src,fill_color="col",line_color=None)
for xs,ys,col,w in ((ma60_i,ma60,"#FF6A13",2.2),(ma30_i,ma30,"#1EC4D3",2),(ma20_i,ma20,"#D63FA0",2),(ma10_i,ma10,"#2B93EA",2),(ma5_i,ma5,"#F6A033",2)):
    m = min(len(xs),len(ys))
    main.line(xs[:m],ys[:m],line_color=col,line_width=w,line_join="round")
main.text([474],[6715.46],text=["←6715.46"],x_offset=7,text_font=value(FONT),text_font_size="24px",text_baseline="middle",text_color=TXT)
main.text([64],[2984.9],text=["←2984.90"],x_offset=5,text_font=value(FONT),text_font_size="24px",text_baseline="middle",text_color=TXT)

h2 = header(40)
chevron(h2, 19)
h2.text([30],[20],text=["成交量"],text_font=value(CJK),text_font_size="22px",text_baseline="middle",text_color="#CDD0D5")
for t,col,x in legend_vol:
    h2.text([x],[21],text=[t],text_font=value(FONT+", "+CJK),text_font_size="21.5px",text_baseline="middle",text_color=col)
h2.text([3706],[20],text=["⚙"],text_font=value("DejaVu Sans"),text_font_size="24px",text_align="center",text_baseline="middle",text_color=ICON)

# the volume frame runs to the page edge so that the watermark is not clipped at the axis line
xe = (3632-107)/step
vol = figure(width=3722, height=407, x_range=Range1d((105-107)/step, (3722-107)/step), y_range=Range1d(0,407/7.35), output_backend="svg", toolbar_location=None,
             min_border_left=105, min_border_right=0, min_border_top=0, min_border_bottom=0,
             background_fill_color=BG, border_fill_color=BG, outline_line_color=None, frame_align=False)
vol.xaxis.visible = False; vol.grid.visible = False
ax = vol.yaxis[0]
ax.ticker = FixedTicker(ticks=list(vol_tick_labels)); ax.major_label_overrides = dict(vol_tick_labels)
ax.axis_line_color=None; ax.major_tick_line_color=None; ax.minor_tick_line_color=None
ax.major_tick_out=0; ax.major_tick_in=0; ax.minor_tick_out=0; ax.minor_tick_in=0
ax.major_label_text_color=TXT; ax.major_label_text_font=FONT+", "+CJK; ax.major_label_text_font_size="24px"; ax.major_label_standoff=6
x0 = (105-107)/step
vol.segment([x0]*len(vol_grid),vol_grid,[xe]*len(vol_grid),vol_grid,line_color=GRID,line_width=1)
vol.segment([x0,x0],[0,0],[x0,x0],[407/7.35]*2,line_color=GRID,line_width=1)
vol.segment([xe,xe],[0,0],[xe,xe],[407/7.35]*2,line_color=GRID,line_width=1)
vol.text([(3637-107)/step]*len(vol_tick_labels),list(vol_tick_labels),text=list(vol_tick_labels.values()),
         text_font=value(FONT+", "+CJK),text_font_size="24px",text_baseline="middle",text_color=TXT)
vol.vbar("x",width=0.29,top="v",bottom=0,source=src,fill_color="col",line_color=None)
for xs,ys,col in ((vma5_i,vma5,"#F6A033"),(vma10_i,vma10,"#2B93EA")):
    m = min(len(xs),len(ys))
    vol.line(xs[:m],ys[:m],line_color=col,line_width=2,line_join="round")

# watermark, positioned in page pixels
px = lambda a: (np.asarray(a,float)-107)/step
py = lambda a: (1500-np.asarray(a,float))/7.35
WM = "#D4D4D4"
t = np.linspace(0,2*np.pi,80)
vol.line(px(3175+52*np.cos(t)),py(1285+51*np.sin(t)),line_color=WM,line_width=5,line_alpha=0.85)
vol.line(px([3199,3183,3173,3150,3131]),py([1262,1273,1293,1296,1297]),line_color=WM,line_width=4,line_alpha=0.85)
vol.line(px([3199,3207,3194,3172,3146]),py([1262,1275,1313,1322,1328]),line_color=WM,line_width=4,line_alpha=0.85)
vol.segment(px([3142,3156,3170,3183,3193]),py([1298,1298,1293,1287,1277]),px([3148,3160,3176,3190,3203]),py([1326,1325,1320,1307,1283]),line_color=WM,line_width=4,line_alpha=0.85)
vol.add_layout(Label(x=3272-105,y=1500-1281,text="老虎社区",x_units="screen",y_units="screen",text_font=CJK,text_font_size="93px",text_color=WM,text_baseline="middle",text_alpha=0.88,level="overlay"))
vol.add_layout(Label(x=3320-105,y=1500-1422,text="@萌生财经",x_units="screen",y_units="screen",text_font=CJK,text_font_size="68px",text_color="#FFFFFF",text_baseline="middle",level="overlay"))

foot = header(6)

css = GlobalInlineStyleSheet(css="html,body{margin:0!important;padding:0;background:#191B1F;overflow:hidden}")
root = column(h1, main, h2, vol, foot, spacing=0, stylesheets=[css])
open("out.html","w").write(file_html(root, INLINE))
